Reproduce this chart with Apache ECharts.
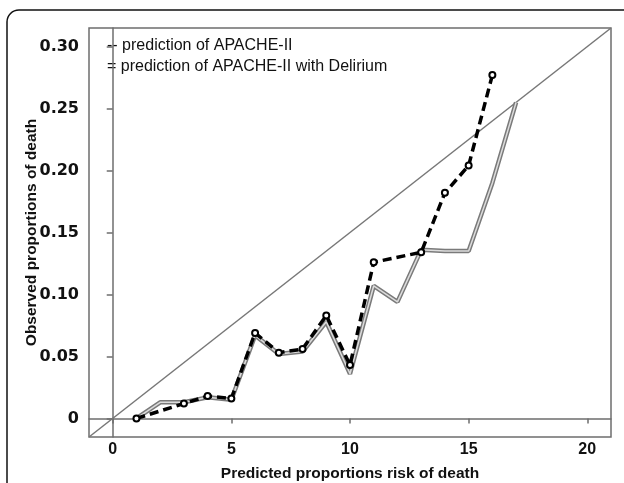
<!DOCTYPE html>
<html>
<head>
<meta charset="utf-8">
<script src="https://cdn.jsdelivr.net/npm/echarts@6/dist/echarts.min.js"></script>
<style>html,body{margin:0;padding:0;background:#fff}#c{width:624px;height:483px}</style>
</head>
<body>
<div id="c"></div>
<script>
const xTicks = [0, 5, 10, 15, 20];
const yTicks = [0, 0.05, 0.10, 0.15, 0.20, 0.25, 0.30];
const xApache = [1,3,4,5,6,7,8,9,10,11,13,14,15,16];
const yApache = [0.000,0.012,0.018,0.016,0.069,0.053,0.056,0.083,0.043,0.126,0.134,0.182,0.204,0.277];
const xDelirium = [1,2,3,4,5,6,7,8,9,10,11,12,13,14,15,16,17];
const yDelirium = [0.000,0.013,0.013,0.017,0.015,0.067,0.052,0.054,0.078,0.036,0.107,0.094,0.136,0.135,0.135,0.190,0.255];
const refX = [-1, 21];
const refY = [-0.015, 0.315];
const legendTexts = ['-- prediction of APACHE-II', '= prediction of APACHE-II with Delirium'];

const pair = (xs, ys) => xs.map((x, i) => [x, ys[i]]);
const chart = echarts.init(document.getElementById('c'), null, {renderer: 'canvas'});
const axisCol = '#6e6e6e';
const FONT = '"Liberation Sans", Arial, sans-serif';
const YFONT = '"DejaVu Sans", sans-serif';
chart.setOption({
  animation: false,
  backgroundColor: '#fff',
  grid: {left: 89, top: 28, right: 13, bottom: 46, containLabel: false, outerBoundsMode: 'none',
    show: true, borderColor: axisCol, borderWidth: 1.5, backgroundColor: 'transparent'},
  xAxis: {
    type: 'value', min: -1, max: 21,
    name: 'Predicted proportions risk of death', nameLocation: 'middle', nameGap: 29, nameMoveOverlap: false,
    nameTextStyle: {fontFamily: FONT, fontWeight: 'bold', fontSize: 15.5, color: '#111'},
    axisLine: {show: true, lineStyle: {color: axisCol, width: 1.5}},
    axisTick: {show: true, length: 5, customValues: xTicks, lineStyle: {color: axisCol, width: 1.5}},
    axisLabel: {customValues: xTicks, fontFamily: FONT, fontWeight: 'bold', fontSize: 16, color: '#111', margin: 5},
    splitLine: {show: false}
  },
  yAxis: {
    type: 'value', min: -0.015, max: 0.315,
    name: 'Observed proportions of death', nameLocation: 'middle', nameGap: 49, nameRotate: 90, nameMoveOverlap: false,
    nameTextStyle: {fontFamily: FONT, fontWeight: 'bold', fontSize: 15.5, color: '#111'},
    axisLine: {show: true, lineStyle: {color: axisCol, width: 1.5}},
    axisTick: {show: true, length: 6, customValues: yTicks, lineStyle: {color: axisCol, width: 1.5}},
    axisLabel: {customValues: yTicks, fontFamily: YFONT, fontWeight: 'bold', fontSize: 16, color: '#111', margin: 10,
      formatter: v => (Math.abs(v) < 1e-9 ? '0' : v.toFixed(2))},
    splitLine: {show: false}
  },
  series: [
    {type: 'line', data: pair(refX, refY), symbol: 'none', silent: true,
      lineStyle: {color: '#777', width: 1.5}},
    {type: 'line', data: pair(xDelirium, yDelirium), symbol: 'none', silent: true,
      lineStyle: {color: '#7a7a7a', width: 4.5}},
    {type: 'line', data: pair(xDelirium, yDelirium), symbol: 'none', silent: true,
      lineStyle: {color: '#dcdcdc', width: 1.5}},
    {type: 'line', data: pair(xApache, yApache), symbol: 'circle', symbolSize: 6, silent: true,
      lineStyle: {color: '#000', width: 3.5, type: [9, 5]},
      itemStyle: {color: '#fff', borderColor: '#000', borderWidth: 2}}
  ],
  graphic: [
    {type: 'rect', shape: {x: 7, y: 10, width: 660, height: 520, r: 12}, style: {fill: 'none', stroke: '#111', lineWidth: 1.5}, silent: true},
    {type: 'text', left: 107, top: 38, style: {text: legendTexts[0], fontFamily: FONT, fontSize: 16, fill: '#111'}},
    {type: 'text', left: 107, top: 59, style: {text: legendTexts[1], fontFamily: FONT, fontSize: 16, fill: '#111'}}
  ]
});
</script>
</body>
</html>
